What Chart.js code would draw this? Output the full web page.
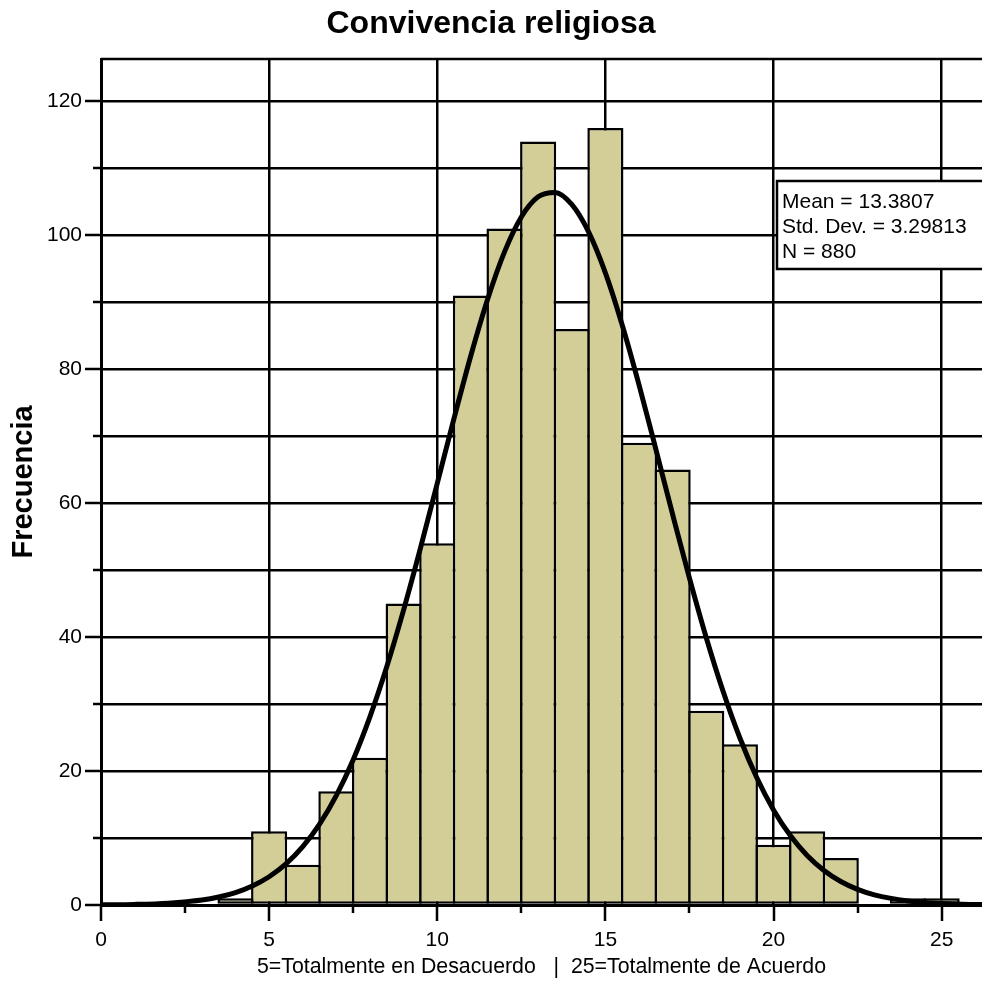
<!DOCTYPE html>
<html>
<head>
<meta charset="utf-8">
<script src="https://cdn.jsdelivr.net/npm/chart.js@4/dist/chart.umd.min.js"></script>
<style>
  html, body { margin: 0; padding: 0; background: #fff; }
  #wrap { width: 982px; height: 984px; position: relative; }
</style>
</head>
<body>
<div id="wrap"><canvas id="histChart"></canvas></div>
<script>
// Histogram bins (score) and counts
const binCenters = [4, 5, 6, 7, 8, 9, 10, 11, 12, 13, 14, 15, 16, 17, 18, 19, 20, 21, 22, 23, 24, 25];
const frequencies = [1, 11, 6, 17, 22, 45, 54, 91, 101, 114, 86, 116, 69, 65, 29, 24, 9, 11, 7, null, 1, 1];

// Normal curve
const curveX = [0, 1, 2, 3, 3.5, 4, 4.5, 5, 5.5, 6, 6.5, 7, 7.5, 8, 8.5, 9, 9.5, 10, 10.5, 11, 11.5, 12, 12.5, 13, 13.5,
  14, 14.5, 15, 15.5, 16, 16.5, 17, 17.5, 18, 18.5, 19, 19.5, 20, 20.5, 21, 21.5, 22, 22.5, 23, 24, 25, 26, 27];
const curveY = [0.03, 0.09, 0.28, 0.75, 1.2, 1.86, 2.84, 4.22, 6.13, 8.7, 12.07, 16.37, 21.7, 28.13, 35.6, 44.06, 53.27, 62.94, 72.68, 82.04, 90.47, 97.51, 102.72, 105.73, 106.37,
  104.58, 100.48, 94.36, 86.58, 77.65, 68.06, 58.3, 48.8, 39.91, 31.91, 24.93, 19.03, 14.2, 10.36, 7.38, 5.14, 3.5, 2.33, 1.51, 0.6, 0.21, 0.07, 0.02];

// Stats box
const statLines = ["Mean = 13.3807", "Std. Dev. = 3.29813", "N = 880"];

const FONT = "'Liberation Sans', Arial, Helvetica, sans-serif";

// ticks, top frame line and the stats box
const extrasPlugin = {
  id: "extras",
  afterDraw(chart) {
    const { ctx, chartArea: a, scales: { x, y } } = chart;
    ctx.save();
    ctx.strokeStyle = "#000";
    ctx.lineWidth = 2.5;
    ctx.beginPath();
    x.ticks.forEach(t => {
      const px = Math.round(x.getPixelForValue(t.value));
      const len = t.value % 5 === 0 ? 16 : 8;
      ctx.moveTo(px, a.bottom);
      ctx.lineTo(px, a.bottom + len);
    });
    y.ticks.forEach(t => {
      const py = Math.round(y.getPixelForValue(t.value));
      const len = t.value % 20 === 0 ? 16 : 8;
      ctx.moveTo(a.left - len, py);
      ctx.lineTo(a.left, py);
    });
    ctx.stroke();

    // top frame
    ctx.lineWidth = 2.5;
    ctx.beginPath();
    ctx.moveTo(a.left, a.top);
    ctx.lineTo(a.right, a.top);
    ctx.stroke();

    // stats box
    ctx.fillStyle = "#fff";
    ctx.fillRect(777, 181, 220, 88);
    ctx.lineWidth = 2.5;
    ctx.strokeRect(777, 181, 220, 88);
    ctx.fillStyle = "#000";
    ctx.font = "21px " + FONT;
    ctx.textBaseline = "alphabetic";
    ctx.textAlign = "left";
    statLines.forEach((s, i) => ctx.fillText(s, 782, 208 + i * 25));
    ctx.restore();
  }
};

new Chart(document.getElementById("histChart"), {
  type: "bar",
  data: {
    datasets: [
      {
        type: "line",
        label: "Normal",
        data: curveX.map((v, i) => ({ x: v, y: curveY[i] })),
        borderColor: "#000",
        borderWidth: 5,
        pointRadius: 0,
        cubicInterpolationMode: "monotone",
        fill: false,
        order: 0
      },
      {
        type: "bar",
        label: "Frecuencia",
        data: binCenters.map((v, i) => ({ x: v, y: frequencies[i] })),
        backgroundColor: "rgb(211, 206, 152)",
        borderColor: "#000",
        borderWidth: 2.5,
        borderSkipped: false,
        barPercentage: 1.074,
        categoryPercentage: 1,
        order: 1
      }
    ]
  },
  options: {
    responsive: true,
    maintainAspectRatio: false,
    animation: false,
    layout: { padding: 0 },
    plugins: {
      legend: { display: false },
      tooltip: { enabled: false },
      title: {
        display: true,
        text: "Convivencia religiosa",
        color: "#000",
        font: { family: FONT, size: 32, weight: "bold" },
        padding: { top: 5, bottom: 15.6 }
      }
    },
    scales: {
      x: {
        type: "linear",
        min: 0,
        max: 26.2,
        offset: false,
        afterFit(scale) { scale.height = 79; },
        ticks: {
          stepSize: 2.5,
          includeBounds: false,
          autoSkip: false,
          maxRotation: 0,
          color: "#000",
          padding: 7,
          font: { family: FONT, size: 21 },
          callback: v => (v % 5 === 0 ? v : "")
        },
        grid: {
          offset: false,
          color: c => (c.tick && c.tick.value % 5 === 0 ? "#000" : "transparent"),
          lineWidth: 2.5,
          drawTicks: true,
          tickLength: 16,
          tickColor: "transparent"
        },
        border: { display: true, color: "#000", width: 3 },
        title: {
          display: true,
          text: "5=Totalmente en Desacuerdo   |  25=Totalmente de Acuerdo",
          color: "#000",
          font: { family: FONT, size: 21.3 },
          padding: { top: 0, bottom: 4 }
        }
      },
      y: {
        min: 0,
        max: 126.3,
        afterFit(scale) { scale.width = 101; },
        ticks: {
          stepSize: 10,
          includeBounds: false,
          autoSkip: false,
          color: "#000",
          padding: 3,
          font: { family: FONT, size: 21 },
          callback: v => (v % 20 === 0 ? v : "")
        },
        grid: {
          color: "#000",
          lineWidth: 2.5,
          drawTicks: true,
          tickLength: 16,
          tickColor: "transparent"
        },
        border: { display: true, color: "#000", width: 3 },
        title: {
          display: true,
          text: "Frecuencia",
          color: "#000",
          font: { family: FONT, size: 29, weight: "bold" },
          padding: { top: 7, bottom: 0 }
        }
      }
    }
  },
  plugins: [extrasPlugin]
});
</script>
</body>
</html>
